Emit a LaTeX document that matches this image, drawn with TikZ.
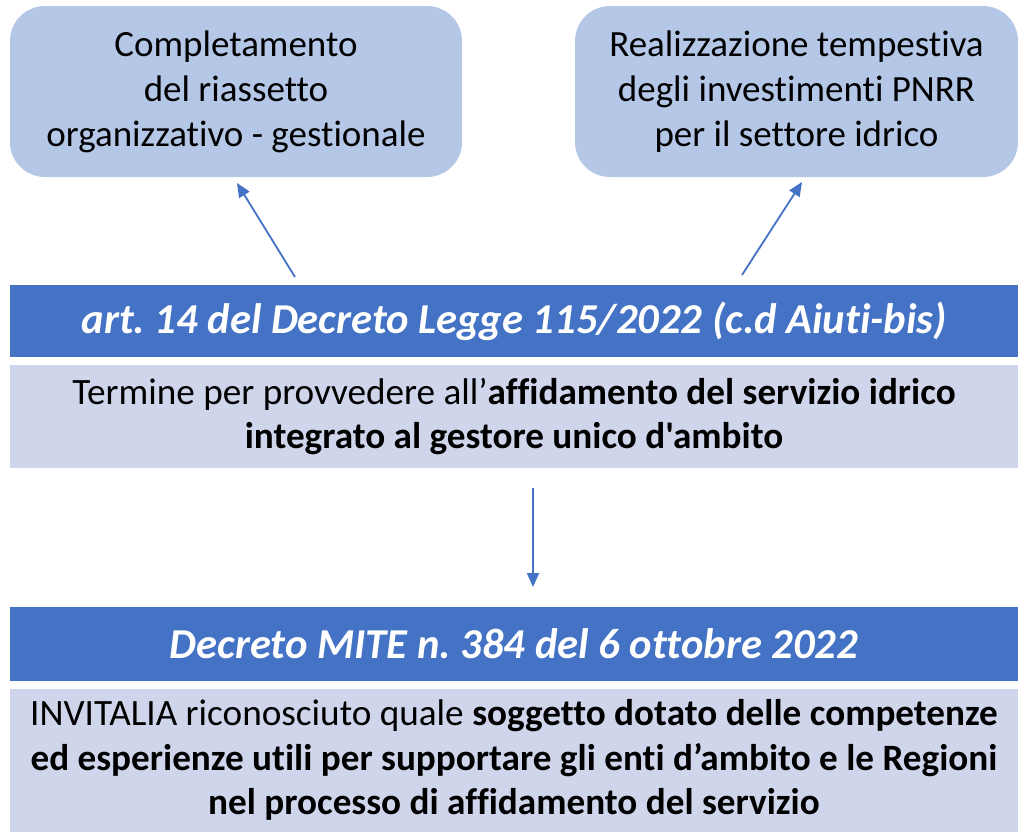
\documentclass[tikz,border=0pt]{standalone}
\usepackage{fontspec}
\setmainfont{Carlito}[Ligatures={TeXOff,CommonOff}]
\usetikzlibrary{arrows.meta}
\definecolor{lightblue}{HTML}{B4C7E7}
\definecolor{barblue}{HTML}{4472C4}
\definecolor{palebox}{HTML}{CFD5EA}
\frenchspacing
\begin{document}
\begin{tikzpicture}[x=1pt,y=-1pt,
  goalbox/.style={fill=lightblue, rounded corners=35pt, inner sep=0pt, align=center,
    font=\fontsize{37}{45}\selectfont, text=black},
  barbox/.style={fill=barblue, inner sep=0pt, minimum width=1008pt, align=center,
    font=\fontsize{42.6}{48}\selectfont\bfseries\itshape, text=white},
  palebox/.style={fill=palebox, inner sep=0pt, minimum width=1008pt, align=center,
    font=\fontsize{37.2}{44.5}\selectfont, text=black},
  conn/.style={draw=barblue, line width=1.8pt, -{Triangle[length=14pt,width=12pt]}}
]
\useasboundingbox (0,0) rectangle (1018,831);
\node[goalbox, minimum width=452pt, minimum height=171pt] (g1) at (236,91.5)
  {Completamento\\del riassetto\\organizzativo - gestionale};
\node[goalbox, minimum width=443pt, minimum height=171pt] (g2) at (796.5,91.5)
  {Realizzazione tempestiva\\degli investimenti PNRR\\per il settore idrico};
\node[barbox, minimum height=72pt] (b1) at (514,321)
  {art. 14 del Decreto Legge 115/2022 (c.d Aiuti-bis)};
\node[palebox, minimum height=103pt] (p1) at (514,416.5)
  {Termine per provvedere all’\textbf{affidamento del servizio idrico}\\\textbf{integrato al gestore unico d'ambito}};
\node[barbox, minimum height=74pt] (b2) at (514,644)
  {Decreto MITE n. 384 del 6 ottobre 2022};
\node[palebox, minimum height=143pt] (p2) at (514,760)
  {INVITALIA riconosciuto quale \textbf{soggetto dotato delle competenze}\\\textbf{ed esperienze utili per supportare gli enti d’ambito e le Regioni}\\\textbf{nel processo di affidamento del servizio}};
\coordinate (a1s) at (295,277);
\coordinate (a1e) at (237,183);
\coordinate (a2s) at (742,275);
\coordinate (a2e) at (802,182);
\coordinate (a3s) at (533,488);
\coordinate (a3e) at (533,587);
\draw[conn] (a1s) -- (a1e);
\draw[conn] (a2s) -- (a2e);
\draw[conn] (a3s) -- (a3e);
\end{tikzpicture}
\end{document}
